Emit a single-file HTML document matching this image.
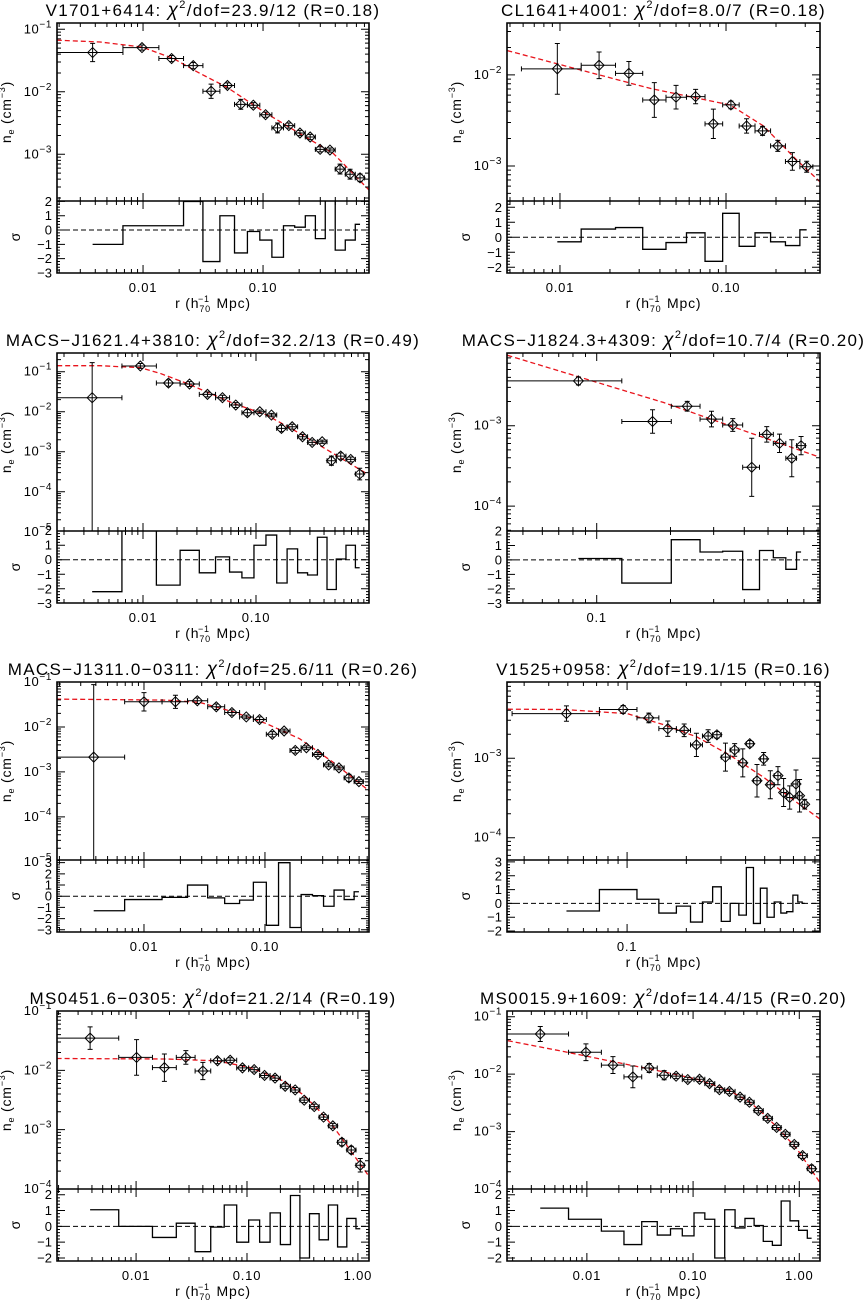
<!DOCTYPE html>
<html><head><meta charset="utf-8"><title>Density profiles</title>
<style>
html,body{margin:0;padding:0;background:#fff;}
svg{display:block;font-family:"Liberation Sans",sans-serif;}
</style></head>
<body>
<svg id="fig" width="863" height="1301" viewBox="0 0 863 1301" xmlns="http://www.w3.org/2000/svg">
<rect width="863" height="1301" fill="#fff"/>
</svg>
<script>
// ---- data: panel 1 V1701+6414
const p1_r = [0.0038,0.0098,0.0173,0.0262,0.0369,0.0505,0.0652,0.083,0.105,0.132,0.164,0.203,0.247,0.299,0.361,0.438,0.531,0.643];
const p1_ne = [0.0424,0.0509,0.034,0.0262,0.0102,0.0126,0.0063,0.0061,0.0043,0.00264,0.00288,0.00219,0.00189,0.0012,0.00117,0.00058,0.00048,0.00042];
const p1_err = [0.4,0.1,0.12,0.12,0.3,0.1,0.2,0.1,0.1,0.2,0.1,0.1,0.1,0.1,0.08,0.2,0.2,0.15];
const p1_res = [-1.0,0.3,0.3,2.0,-2.2,1.0,-1.6,-0.1,-0.7,-1.9,0.3,0.2,1.0,-0.6,2.7,-1.4,-0.7,0.4];
const p1_mr = [0.00191,0.00439,0.00975,0.0179,0.0299,0.0498,0.107,0.203,0.386,0.769];
const p1_mn = [0.0667,0.0626,0.0521,0.034,0.0196,0.0119,0.00448,0.00214,0.00103,0.000265];
// ---- panel 2 CL1641+4001
const p2_r = [0.00964,0.0172,0.026,0.037,0.05,0.0656,0.0839,0.107,0.133,0.166,0.205,0.251,0.306];
const p2_ne = [0.01165,0.01276,0.0104,0.0053,0.00569,0.00578,0.0029,0.00468,0.00275,0.00243,0.00166,0.00112,0.00098];
const p2_err = [0.9,0.4,0.35,0.55,0.35,0.2,0.45,0.1,0.2,0.12,0.15,0.25,0.15];
const p2_res = [-0.3,0.55,0.65,-0.8,-0.35,0.3,-1.6,1.6,-0.6,0.3,-0.3,-0.55,0.5];
const p2_mr = [0.00482,0.0348,0.1057,0.168,0.267,0.368];
const p2_mn = [0.0185,0.00713,0.00468,0.00275,0.00116,0.00067];
// ---- panel 3 MACS-J1621.4+3810
const p3_r = [0.00355,0.00947,0.0168,0.0258,0.0372,0.0505,0.0662,0.0839,0.108,0.137,0.168,0.209,0.258,0.314,0.385,0.465,0.562,0.689,0.827];
const p3_ne = [0.0224,0.139,0.0521,0.0492,0.0271,0.0224,0.0147,0.00944,0.01,0.00826,0.00383,0.00422,0.00237,0.00171,0.00178,0.000596,0.00078,0.000643,0.000277];
const p3_err = [6.5,0.15,0.2,0.15,0.15,0.15,0.15,0.2,0.1,0.1,0.2,0.15,0.15,0.15,0.1,0.3,0.2,0.15,0.4];
const p3_res = [-2.2,2.5,-1.75,0.65,-0.9,0.2,-0.85,-1.25,1.0,1.7,-1.6,0.75,-0.9,-1.05,1.55,-2.05,0.05,1.0,-0.55];
const p3_mr = [0.00174,0.0042,0.00947,0.0142,0.0244,0.063,0.124,0.244,0.481,0.946];
const p3_mn = [0.141,0.141,0.126,0.0909,0.051,0.0162,0.00826,0.00287,0.000908,0.000287];
// ---- panel 4 MACS-J1824.3+4309
const p4_r = [0.0842,0.169,0.234,0.294,0.359,0.429,0.494,0.557,0.625,0.682];
const p4_ne = [0.00361,0.00113,0.00175,0.00121,0.00102,0.000304,0.00078,0.000604,0.000394,0.000565];
const p4_err = [0.12,0.4,0.15,0.25,0.2,1.3,0.25,0.3,0.7,0.3];
const p4_res = [0.1,-1.6,1.4,0.55,0.6,-2.05,0.65,0.15,-0.65,0.55];
const p4_mr = [0.0432,0.187,0.816];
const p4_mn = [0.00752,0.00195,0.000404];
// ---- panel 5 MACS-J1311.0-0311
const p5_r = [0.00384,0.01,0.0182,0.0276,0.0396,0.0533,0.0701,0.0903,0.115,0.144,0.178,0.22,0.274,0.336,0.409,0.494,0.598];
const p5_ne = [0.00213,0.0363,0.0363,0.0382,0.0281,0.0209,0.0167,0.0146,0.00686,0.00813,0.003,0.00344,0.00244,0.00143,0.00123,0.000735,0.000608];
const p5_err = [40,0.6,0.4,0.15,0.15,0.15,0.1,0.15,0.15,0.1,0.15,0.1,0.1,0.1,0.1,0.2,0.1];
const p5_res = [-1.3,-0.3,-0.1,1.0,-0.15,-0.65,-0.35,1.25,-2.6,3.0,-2.8,0.15,0.05,-0.9,0.55,-0.3,0.4];
const p5_mr = [0.00188,0.0153,0.0288,0.0544,0.1026,0.1935,0.365,0.724];
const p5_mn = [0.0416,0.0395,0.0351,0.0217,0.0119,0.00548,0.00164,0.000382];
// ---- panel 6 V1525+0958
const p6_r = [0.0492,0.0955,0.129,0.161,0.195,0.225,0.258,0.286,0.316,0.352,0.387,0.42,0.457,0.494,0.534,0.584,0.624,0.67,0.721,0.752,0.798];
const p6_ne = [0.00364,0.0041,0.00321,0.00235,0.00224,0.00147,0.0019,0.00197,0.00103,0.00127,0.000873,0.00152,0.000521,0.000981,0.000464,0.000603,0.000371,0.000321,0.000473,0.000337,0.000264];
const p6_err = [0.25,0.12,0.15,0.25,0.2,0.4,0.2,0.1,0.5,0.2,0.5,0.1,0.6,0.2,0.5,0.3,0.5,0.4,0.5,0.6,0.15];
const p6_res = [-0.55,1.0,0.3,-0.7,-0.2,-1.35,0.1,1.2,-1.3,0.0,-0.85,2.6,-1.45,1.1,-1.0,0.1,-0.7,-0.6,0.6,0.1,0.0];
const p6_mr = [0.0248,0.0477,0.1,0.1535,0.226,0.335,0.494,0.729,0.957];
const p6_mn = [0.00413,0.00409,0.00364,0.00264,0.00185,0.00108,0.000575,0.000277,0.000171];
// ---- panel 7 MS0451.6-0305
const p7_r = [0.00385,0.0101,0.018,0.0281,0.04,0.0542,0.0705,0.091,0.116,0.144,0.179,0.221,0.272,0.328,0.404,0.49,0.594,0.717,0.871,1.05];
const p7_ne = [0.0349,0.0165,0.0111,0.0165,0.00974,0.0145,0.0148,0.011,0.0103,0.0082,0.0074,0.00539,0.00467,0.00314,0.00245,0.00163,0.00116,0.000615,0.000454,0.000251];
const p7_err = [0.55,1.0,0.7,0.3,0.4,0.12,0.1,0.1,0.1,0.1,0.1,0.1,0.1,0.1,0.1,0.1,0.1,0.15,0.15,0.3];
const p7_res = [1.05,0.0,-0.7,0.2,-1.6,-0.05,1.35,-1.0,0.4,-1.0,0.85,-1.15,1.95,-2.0,0.8,-0.85,1.35,-1.3,0.5,-0.15];
const p7_mr = [0.00192,0.0189,0.0535,0.107,0.213,0.32,0.427,0.603,0.853,1.27];
const p7_mn = [0.0158,0.0155,0.0145,0.0111,0.0066,0.0039,0.0023,0.00112,0.00045,0.00016];
// ---- panel 8 MS0015.9+1609
const p8_r = [0.00364,0.0098,0.0176,0.0271,0.0386,0.0534,0.0692,0.0891,0.115,0.143,0.177,0.22,0.277,0.339,0.412,0.504,0.612,0.739,0.897,1.074,1.306];
const p8_ne = [0.0501,0.0241,0.0144,0.00897,0.0128,0.00959,0.00922,0.00805,0.00816,0.00684,0.00536,0.00501,0.00398,0.00325,0.00232,0.0017,0.00118,0.000897,0.000598,0.000382,0.000225];
const p8_err = [0.35,0.4,0.4,0.55,0.2,0.2,0.1,0.1,0.1,0.1,0.1,0.1,0.1,0.1,0.1,0.1,0.1,0.1,0.1,0.12,0.15];
const p8_res = [1.15,0.45,-0.3,-1.15,0.3,-0.55,-0.15,-0.6,0.85,0.45,-2.0,1.05,-0.1,0.5,0.05,-0.95,-1.2,1.6,0.35,-0.25,-0.75];
const p8_mr = [0.0018,0.00604,0.0256,0.0526,0.108,0.223,0.339,0.458,0.612,0.944,1.563];
const p8_mn = [0.0382,0.0248,0.0144,0.011,0.0082,0.0051,0.0033,0.00205,0.00121,0.00051,0.00013];

const NS = "http://www.w3.org/2000/svg";
const svg = document.getElementById('fig');
function mk(tag, attrs, parent){
  const e = document.createElementNS(NS, tag);
  for (const k in attrs) e.setAttribute(k, attrs[k]);
  (parent||svg).appendChild(e);
  return e;
}
function log10(v){ return Math.log(v)/Math.LN10; }

function drawPanel(c, r, ne, err, res, mr, mn){
  const g = mk('g', {});
  
  
  const X = v => c.x0 + (log10(v) - c.xmin) / (c.xmax - c.xmin) * (c.x1 - c.x0);
  const Y = v => c.sep - (log10(v) - c.ymin) / (c.ymax - c.ymin) * (c.sep - c.top);
  const R = v => c.bot - (v - c.rmin) / (c.rmax - c.rmin) * (c.bot - c.sep);
  const clipId = c.id + '-clip', clipR = c.id + '-clipr';
  const cp = mk('clipPath', {id: clipId}, g);
  mk('rect', {x: c.x0, y: c.top, width: c.x1 - c.x0, height: c.sep - c.top}, cp);
  const cp2 = mk('clipPath', {id: clipR}, g);
  mk('rect', {x: c.x0, y: c.sep, width: c.x1 - c.x0, height: c.bot - c.sep}, cp2);

  // title
  const t = mk('text', {x: (c.x0 + c.x1) / 2, y: c.top - 7, 'text-anchor': 'middle', 'font-size': 17, 'letter-spacing': 1.3, fill: '#000'}, g);
  
  
  t.appendChild(document.createTextNode(c.name + ': '));
  const chi = mk('tspan', {'font-style': 'italic', 'font-size': 19}, t); chi.textContent = 'χ';
  const s2 = mk('tspan', {'font-size': 11, dy: -8}, t); s2.textContent = '2';
  const rest = mk('tspan', {dy: 8}, t); rest.textContent = '/dof=' + c.chi + ' (R=' + c.R + ')';

  // model curve
  let d = '';
  for (let i = 0; i < mr.length; i++) d += (i ? 'L' : 'M') + X(mr[i]).toFixed(1) + ',' + Y(mn[i]).toFixed(1);
  const model = mk('path', {d: d, fill: 'none', stroke: '#e8141c', 'stroke-width': 1.3, 'stroke-dasharray': '5,3', 'clip-path': 'url(#' + clipId + ')'}, g);
  
  

  const n = r.length;
  const lo = [], hi = [];
  for (let i = 0; i < n; i++){
    lo.push(i > 0 ? (r[i-1] + r[i]) / 2 : Math.max(2 * r[0] - (r[0] + r[1]) / 2, Math.pow(10, c.xmin)));
    hi.push(i < n - 1 ? (r[i] + r[i+1]) / 2 : 2 * r[n-1] - (r[n-2] + r[n-1]) / 2);
  }
  const pg = mk('g', {stroke: '#000', 'stroke-width': 1, fill: 'none', 'clip-path': 'url(#' + clipId + ')'}, g);
  for (let i = 0; i < n; i++){
    const px = X(r[i]), py = Y(ne[i]);
    const yh = Y(ne[i] * (1 + err[i]));
    const yl = err[i] >= 5 ? c.sep + 2 : Y(ne[i] / (1 + err[i]));
    const xl = Math.max(X(lo[i]), c.x0 - 2), xh = X(hi[i]);
    const pt = mk('g', {}, pg);
    
    
    mk('path', {d: `M${xl},${py}H${xh}M${xl},${py-2.5}V${py+2.5}M${xh},${py-2.5}V${py+2.5}M${px},${yh}V${yl}M${px-2.5},${yh}H${px+2.5}M${px-2.5},${yl}H${px+2.5}`}, pt);
    mk('path', {d: `M${px-5},${py}L${px},${py-5}L${px+5},${py}L${px},${py+5}Z`}, pt);
  }

  // residual histogram
  let rd = 'M' + X(r[0]) + ',' + R(res[0]);
  for (let i = 0; i < n - 1; i++){
    const m = X((r[i] + r[i+1]) / 2);
    rd += 'H' + m + 'V' + R(res[i+1]);
  }
  rd += 'H' + X(r[n-1]);
  const rp = mk('path', {d: rd, fill: 'none', stroke: '#000', 'stroke-width': 1.3, 'clip-path': 'url(#' + clipR + ')'}, g);
  
  
  const zl = mk('line', {x1: c.x0, x2: c.x1, y1: R(0), y2: R(0), stroke: '#000', 'stroke-dasharray': '5,3', 'stroke-width': 1}, g);
  
  

  // ticks
  let tk = '';
  const e0 = Math.floor(c.xmin), e1 = Math.ceil(c.xmax);
  for (let e = e0; e <= e1; e++){
    for (let m = 1; m <= 9; m++){
      const lv = e + log10(m);
      if (lv < c.xmin || lv > c.xmax) continue;
      const x = c.x0 + (lv - c.xmin) / (c.xmax - c.xmin) * (c.x1 - c.x0);
      const L = m === 1 ? 8 : 4;
      tk += `M${x},${c.top}v${L}M${x},${c.sep}v${-L}M${x},${c.sep}v${L}M${x},${c.bot}v${-L}`;
    }
  }
  const f0 = Math.floor(c.ymin), f1 = Math.ceil(c.ymax);
  for (let e = f0; e <= f1; e++){
    for (let m = 1; m <= 9; m++){
      const lv = e + log10(m);
      if (lv < c.ymin || lv > c.ymax) continue;
      const y = c.sep - (lv - c.ymin) / (c.ymax - c.ymin) * (c.sep - c.top);
      const L = m === 1 ? 8 : 4;
      tk += `M${c.x0},${y}h${L}M${c.x1},${y}h${-L}`;
    }
  }
  for (let v = Math.ceil(c.rmin * 5) / 5; v <= c.rmax; v += 0.2){
    const y = R(v);
    const L = Math.abs(v - Math.round(v)) < 0.01 ? 8 : 3;
    tk += `M${c.x0},${y}h${L}M${c.x1},${y}h${-L}`;
  }
  mk('path', {d: tk, stroke: '#000', 'stroke-width': 1, fill: 'none'}, g);

  const fr = mk('path', {d: `M${c.x0},${c.top}H${c.x1}V${c.bot}H${c.x0}ZM${c.x0},${c.sep}H${c.x1}`, fill: 'none', stroke: '#000', 'stroke-width': 1.6}, g);
  
  

  for (let i = 0; i < c.xt.length; i++){
    const tl = mk('text', {x: X(c.xt[i]), y: c.bot + 19, 'text-anchor': 'middle', 'font-size': 13, 'letter-spacing': 0.8}, g);
    
    
    tl.textContent = c.xl[i];
  }
  for (const e of c.yt){
    const y = Y(Math.pow(10, e));
    const tl = mk('text', {x: c.x0 - 5, y: y + 4, 'text-anchor': 'end', 'font-size': 13, 'letter-spacing': 0.6}, g);
    
    
    const a = mk('tspan', {}, tl); a.textContent = '10';
    const b = mk('tspan', {'font-size': 10, dy: -6}, tl); b.textContent = '−' + Math.abs(e);
  }
  for (const v of c.rt){
    const tl = mk('text', {x: c.x0 - 5, y: R(v) + 4.5, 'text-anchor': 'end', 'font-size': 13}, g);
    
    
    tl.textContent = v < 0 ? '−' + Math.abs(v) : String(v);
  }
  const yc = (c.top + c.sep) / 2, yx = c.x0 - 46;
  const yt = mk('text', {x: yx, y: yc, 'text-anchor': 'middle', 'font-size': 14, 'letter-spacing': 0.8, transform: `rotate(-90 ${yx} ${yc})`}, g);
  
  
  const y1 = mk('tspan', {}, yt); y1.textContent = 'n';
  const y2 = mk('tspan', {'font-size': 9, dy: 3}, yt); y2.textContent = 'e';
  const y3 = mk('tspan', {dy: -3}, yt); y3.textContent = ' (cm';
  const y4 = mk('tspan', {'font-size': 9, dy: -6}, yt); y4.textContent = '−3';
  const y5 = mk('tspan', {dy: 6}, yt); y5.textContent = ')';
  const rc = (c.sep + c.bot) / 2, rx = c.x0 - 37;
  const st = mk('text', {x: rx, y: rc, 'text-anchor': 'middle', 'font-size': 14, transform: `rotate(-90 ${rx} ${rc})`}, g);
  
  
  st.textContent = 'σ';
  const xx = (c.x0 + c.x1) / 2;
  const xt = mk('text', {x: xx, y: c.bot + 35, 'text-anchor': 'middle', 'font-size': 14, 'letter-spacing': 0.8}, g);
  
  
  const x1 = mk('tspan', {}, xt); x1.textContent = 'r  (h';
  const x2 = mk('tspan', {'font-size': 9, dy: 4}, xt); x2.textContent = '70';
  const x3 = mk('tspan', {'font-size': 9, dy: -10, dx: -13}, xt); x3.textContent = '−1';
  const x4 = mk('tspan', {dy: 6, dx: 2}, xt); x4.textContent = ' Mpc)';
}

const L0 = 57, L1 = 369, R0 = 507, R1 = 820;
function rowY(o){ return {top: 23 + o, sep: 201 + o, bot: 273 + o}; }
const xl2 = ['0.01', '0.10'], xv2 = [0.01, 0.1];
const xl3 = ['0.01', '0.10', '1.00'], xv3 = [0.01, 0.1, 1.0];

drawPanel(Object.assign({id: 'panel-v1701', name: 'V1701+6414', chi: '23.9/12', R: '0.18', x0: L0, x1: L1, xmin: -2.717, xmax: -0.117, ymin: -3.747, ymax: -0.9, rmin: -3.0, rmax: 2.03, xt: xv2, xl: xl2, yt: [-1,-2,-3], rt: [2,1,0,-1,-2,-3]}, rowY(0)), p1_r, p1_ne, p1_err, p1_res, p1_mr, p1_mn);
drawPanel(Object.assign({id: 'panel-cl1641', name: 'CL1641+4001', chi: '8.0/7', R: '0.18', x0: R0, x1: R1, xmin: -2.319, xmax: -0.434, ymin: -3.385, ymax: -1.43, rmin: -2.38, rmax: 2.42, xt: xv2, xl: xl2, yt: [-2,-3], rt: [2,1,0,-1,-2]}, rowY(0)), p2_r, p2_ne, p2_err, p2_res, p2_mr, p2_mn);
drawPanel(Object.assign({id: 'panel-macs1621', name: 'MACS−J1621.4+3810', chi: '32.2/13', R: '0.49', x0: L0, x1: L1, xmin: -2.761, xmax: 0.0, ymin: -4.98, ymax: -0.533, rmin: -2.98, rmax: 1.98, xt: xv2, xl: xl2, yt: [-1,-2,-3,-4,-5], rt: [2,1,0,-1,-2,-3]}, rowY(330)), p3_r, p3_ne, p3_err, p3_res, p3_mr, p3_mn);
drawPanel(Object.assign({id: 'panel-macs1824', name: 'MACS−J1824.3+4309', chi: '10.7/4', R: '0.20', x0: R0, x1: R1, xmin: -1.366, xmax: -0.089, ymin: -4.31, ymax: -2.095, rmin: -2.98, rmax: 2.0, xt: [0.1], xl: ['0.1'], yt: [-3,-4], rt: [2,1,0,-1,-2,-3]}, rowY(330)), p4_r, p4_ne, p4_err, p4_res, p4_mr, p4_mn);
drawPanel(Object.assign({id: 'panel-macs1311', name: 'MACS−J1311.0−0311', chi: '25.6/11', R: '0.26', x0: L0, x1: L1, xmin: -2.719, xmax: -0.14, ymin: -4.96, ymax: -1.0, rmin: -3.2, rmax: 3.24, xt: xv2, xl: xl2, yt: [-1,-2,-3,-4,-5], rt: [3,2,1,0,-1,-2,-3]}, rowY(659)), p5_r, p5_ne, p5_err, p5_res, p5_mr, p5_mn);
drawPanel(Object.assign({id: 'panel-v1525', name: 'V1525+0958', chi: '19.1/15', R: '0.16', x0: R0, x1: R1, xmin: -1.61, xmax: -0.02, ymin: -4.28, ymax: -2.042, rmin: -2.07, rmax: 3.14, xt: [0.1], xl: ['0.1'], yt: [-3,-4], rt: [3,2,1,0,-1,-2]}, rowY(659)), p6_r, p6_ne, p6_err, p6_res, p6_mr, p6_mn);
drawPanel(Object.assign({id: 'panel-ms0451', name: 'MS0451.6−0305', chi: '21.2/14', R: '0.19', x0: L0, x1: L1, xmin: -2.713, xmax: 0.10, ymin: -4.0, ymax: -1.0, rmin: -2.19, rmax: 2.36, xt: xv3, xl: xl3, yt: [-1,-2,-3,-4], rt: [2,1,0,-1,-2]}, rowY(988)), p7_r, p7_ne, p7_err, p7_res, p7_mr, p7_mn);
drawPanel(Object.assign({id: 'panel-ms0015', name: 'MS0015.9+1609', chi: '14.4/15', R: '0.20', x0: R0, x1: R1, xmin: -2.752, xmax: 0.195, ymin: -4.0, ymax: -0.9, rmin: -2.19, rmax: 2.36, xt: xv3, xl: xl3, yt: [-1,-2,-3,-4], rt: [2,1,0,-1,-2]}, rowY(988)), p8_r, p8_ne, p8_err, p8_res, p8_mr, p8_mn);
</script>
</body></html>
